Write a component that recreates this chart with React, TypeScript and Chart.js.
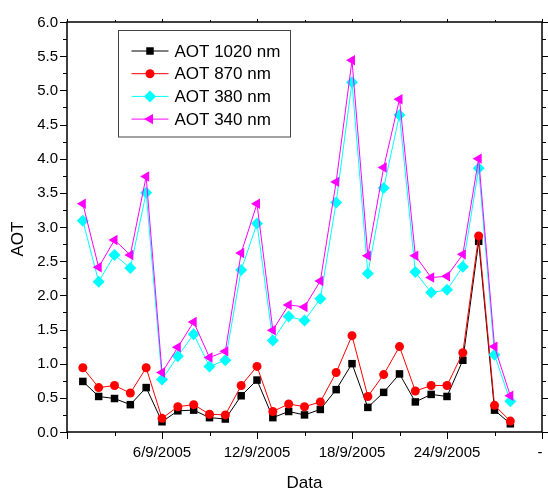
import React, { useEffect, useRef } from "react";
import { Chart, registerables } from "chart.js";

Chart.register(...registerables);

// Measurement days (September 2005)
const days = [1, 2, 3, 4, 5, 6, 7, 8, 9, 10, 11, 12, 13, 14, 15, 16, 17, 18, 19, 20, 21, 22, 23, 24, 25, 26, 27, 28];

// Aerosol optical thickness per wavelength
const aot1020 = [0.74, 0.52, 0.49, 0.40, 0.65, 0.15, 0.31, 0.32, 0.21, 0.19, 0.53, 0.76, 0.21, 0.30, 0.25, 0.33, 0.62, 1.00, 0.36, 0.58, 0.85, 0.44, 0.55, 0.52, 1.05, 2.79, 0.32, 0.12];
const aot870 = [0.94, 0.65, 0.68, 0.57, 0.94, 0.20, 0.37, 0.40, 0.26, 0.25, 0.68, 0.96, 0.30, 0.41, 0.37, 0.44, 0.87, 1.41, 0.52, 0.84, 1.25, 0.60, 0.68, 0.68, 1.16, 2.87, 0.39, 0.16];
const aot380 = [3.09, 2.20, 2.59, 2.40, 3.50, 0.77, 1.11, 1.43, 0.96, 1.05, 2.37, 3.05, 1.34, 1.69, 1.63, 1.95, 3.36, 5.12, 2.32, 3.57, 4.64, 2.34, 2.04, 2.08, 2.42, 3.86, 1.13, 0.45];
const aot340 = [3.34, 2.41, 2.81, 2.59, 3.74, 0.87, 1.24, 1.61, 1.09, 1.18, 2.62, 3.34, 1.49, 1.86, 1.83, 2.21, 3.66, 5.44, 2.58, 3.87, 4.87, 2.58, 2.26, 2.28, 2.60, 4.00, 1.25, 0.53];

const seriesNames = ["AOT 1020 nm", "AOT 870 nm", "AOT 380 nm", "AOT 340 nm"];

// Axis ticks
const xLabelDays = [6, 12, 18, 24, 30];
const xTickLabels = ["6/9/2005", "12/9/2005", "18/9/2005", "24/9/2005", "-"];
const yTickValues = [0, 0.5, 1, 1.5, 2, 2.5, 3, 3.5, 4, 4.5, 5, 5.5, 6];
const yTickLabels = ["0.0", "0.5", "1.0", "1.5", "2.0", "2.5", "3.0", "3.5", "4.0", "4.5", "5.0", "5.5", "6.0"];

const FONT = '"Liberation Sans", Arial, Helvetica, sans-serif';

const styles = [
  { color: "#000000", pointStyle: "rect", radius: 5.3, rotation: 0 },
  { color: "#ff0000", pointStyle: "circle", radius: 4.5, rotation: 0 },
  { color: "#00ffff", pointStyle: "rectRot", radius: 6, rotation: 0 },
  { color: "#ff00ff", pointStyle: "triangle", radius: 6, rotation: 270 },
];

function drawMarker(ctx: CanvasRenderingContext2D, style: string, x: number, y: number, r: number, color: string) {
  ctx.fillStyle = color;
  ctx.beginPath();
  if (style === "rect") {
    const s = Math.SQRT1_2 * r;
    ctx.rect(x - s, y - s, 2 * s, 2 * s);
  } else if (style === "circle") {
    ctx.arc(x, y, r, 0, Math.PI * 2);
  } else if (style === "rectRot") {
    ctx.moveTo(x, y - r);
    ctx.lineTo(x + r, y);
    ctx.lineTo(x, y + r);
    ctx.lineTo(x - r, y);
    ctx.closePath();
  } else {
    // left-pointing triangle
    ctx.moveTo(x - r, y);
    ctx.lineTo(x + r * 0.5, y - r * 0.866);
    ctx.lineTo(x + r * 0.5, y + r * 0.866);
    ctx.closePath();
  }
  ctx.fill();
}

// Boxed axes with outward ticks, tick labels and titles
const framePlugin = {
  id: "originFrame",
  beforeDatasetsDraw(chart: any) {
    const { ctx, chartArea: a, scales } = chart;
    const xs = scales.x;
    const ys = scales.y;
    ctx.save();
    ctx.strokeStyle = "#000";
    const seg = (x1: number, y1: number, x2: number, y2: number) => {
      ctx.beginPath();
      ctx.moveTo(x1, y1);
      ctx.lineTo(x2, y2);
      ctx.stroke();
    };
    ctx.lineWidth = 1;
    // y ticks every 0.25
    for (let i = 0; i <= 24; i++) {
      const v = i * 0.25;
      const py = Math.round(ys.getPixelForValue(v)) + 0.5;
      const major = i % 2 === 0;
      const len = major ? 7 : 4;
      seg(a.left - len, py, a.left, py);
      seg(a.right, py, a.right + len, py);
    }
    // x ticks every 3 days
    for (let d = 0; d <= 30; d += 3) {
      const px = Math.round(xs.getPixelForValue(d)) + 0.5;
      const major = d % 6 === 0;
      seg(px, a.bottom, px, a.bottom + (major ? 7 : 4));
      seg(px, a.top - (major ? 3 : 2), px, a.top);
    }
    ctx.lineWidth = 1.5;
    ctx.strokeRect(a.left, a.top, a.right - a.left, a.bottom - a.top);

    ctx.fillStyle = "#000";
    ctx.font = `15px ${FONT}`;
    ctx.textAlign = "right";
    ctx.textBaseline = "middle";
    yTickValues.forEach((v, i) => {
      ctx.fillText(yTickLabels[i], a.left - 9, ys.getPixelForValue(v) + 0.5);
    });
    ctx.textAlign = "center";
    xLabelDays.forEach((d, i) => {
      const px = xs.getPixelForValue(d) - (d === 30 ? 2 : 0);
      ctx.fillText(xTickLabels[i], px, a.bottom + 21);
    });

    ctx.font = `17px ${FONT}`;
    ctx.fillText("Data", (a.left + a.right) / 2, a.bottom + 51);
    ctx.save();
    ctx.translate(18, (a.top + a.bottom) / 2 + 12);
    ctx.rotate(-Math.PI / 2);
    ctx.fillText("AOT", 0, 0);
    ctx.restore();
    ctx.restore();
  },
  afterDraw(chart: any) {
    const { ctx, chartArea: a } = chart;
    ctx.save();
    const bx = a.left + 51.5;
    const by = a.top + 8.5;
    const bw = 172;
    const bh = 106.5;
    ctx.fillStyle = "#fff";
    ctx.fillRect(bx, by, bw, bh);
    ctx.strokeStyle = "#444";
    ctx.lineWidth = 1;
    ctx.strokeRect(bx, by, bw, bh);
    ctx.font = `17px ${FONT}`;
    ctx.textAlign = "left";
    ctx.textBaseline = "middle";
    seriesNames.forEach((name, i) => {
      const ry = by + 20.5 + i * 22.7;
      const st = styles[i];
      ctx.strokeStyle = st.color;
      ctx.lineWidth = 1;
      ctx.beginPath();
      ctx.moveTo(bx + 13, ry);
      ctx.lineTo(bx + 50, ry);
      ctx.stroke();
      drawMarker(ctx, st.pointStyle, bx + 31.5, ry, st.radius, st.color);
      ctx.fillStyle = "#000";
      ctx.fillText(name, bx + 56, ry + 1);
    });
    ctx.restore();
  },
};

export default function App() {
  const canvasRef = useRef<HTMLCanvasElement | null>(null);

  useEffect(() => {
    const canvas = canvasRef.current;
    if (!canvas) return;
    const series = [aot1020, aot870, aot380, aot340];
    const chart = new Chart(canvas, {
      type: "line",
      data: {
        datasets: series.map((vals, i) => ({
          label: seriesNames[i],
          data: days.map((d, j) => ({ x: d, y: vals[j] })),
          borderColor: styles[i].color,
          backgroundColor: styles[i].color,
          borderWidth: 1,
          pointStyle: styles[i].pointStyle as any,
          pointRadius: styles[i].radius,
          pointRotation: styles[i].rotation,
          pointBorderWidth: 0,
          pointBackgroundColor: styles[i].color,
          pointBorderColor: styles[i].color,
          tension: 0,
          fill: false,
          order: series.length - i,
        })),
      },
      options: {
        responsive: false,
        animation: false,
        devicePixelRatio: 1,
        layout: { padding: { left: 67, right: 2, top: 22, bottom: 59 } },
        scales: {
          x: { type: "linear", min: 0, max: 30, display: false },
          y: { type: "linear", min: 0, max: 6, display: false },
        },
        plugins: {
          legend: { display: false },
          tooltip: { enabled: false },
        },
      },
      plugins: [framePlugin],
    });
    return () => chart.destroy();
  }, []);

  return (
    <div style={{ position: "fixed", left: 0, top: 0, width: 548, height: 491, background: "#fff" }}>
      <canvas ref={canvasRef} width={548} height={491} style={{ display: "block" }} />
    </div>
  );
}
